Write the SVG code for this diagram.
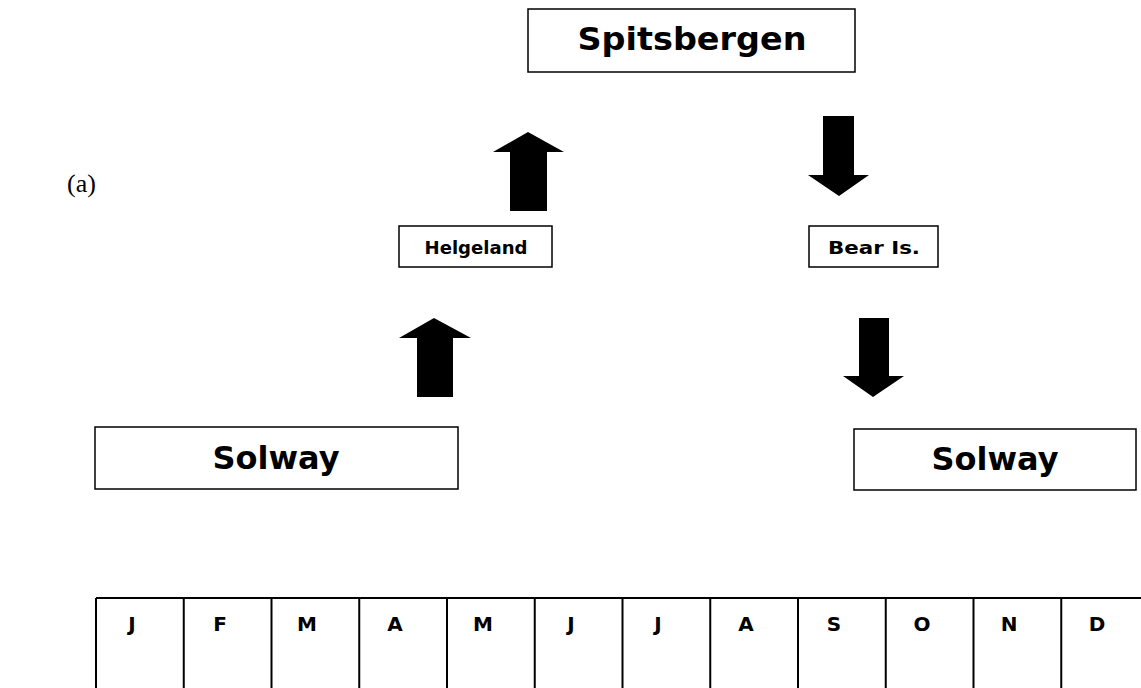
<svg xmlns="http://www.w3.org/2000/svg" width="1141" height="688" viewBox="0 0 1141 688">
<style>
.box{fill:#fff;stroke:#000;stroke-width:1.5}
.lbl{font-family:"Comic Sans MS","DejaVu Sans",sans-serif;font-weight:bold;fill:#000;text-anchor:middle}
.arr{fill:#000;stroke:none}
.grid{stroke:#000;stroke-width:2;fill:none}
.mon{font-family:"Comic Sans MS","DejaVu Sans",sans-serif;font-weight:bold;font-size:20px;fill:#000;text-anchor:middle}
</style>
<rect width="1141" height="688" fill="#fff"/>
<text x="67" y="192" font-family="Liberation Serif, serif" font-size="26">(a)</text>
<g id="spitsbergen">
<rect class="box" x="528" y="9" width="327" height="63"/>
<text class="lbl" x="692" y="50" font-size="32" textLength="229" lengthAdjust="spacingAndGlyphs">Spitsbergen</text>
</g>
<g id="helgeland">
<rect class="box" x="399" y="226" width="153" height="41"/>
<text class="lbl" x="476" y="254" font-size="17" textLength="103" lengthAdjust="spacingAndGlyphs">Helgeland</text>
</g>
<g id="bear">
<rect class="box" x="809" y="226" width="129" height="41"/>
<text class="lbl" x="874" y="254" font-size="17" textLength="92" lengthAdjust="spacingAndGlyphs">Bear Is.</text>
</g>
<g id="solway-left">
<rect class="box" x="95" y="427" width="363" height="62"/>
<text class="lbl" x="276" y="469" font-size="32">Solway</text>
</g>
<g id="solway-right">
<rect class="box" x="854" y="429" width="282" height="61"/>
<text class="lbl" x="995" y="470" font-size="32">Solway</text>
</g>
<g id="connectors">
<polygon class="arr" points="417,397 453,397 453,338 471,338 434,318 399,338 417,338"/>
<polygon class="arr" points="510,211 547,211 547,152 564,152 528,132 493,152 510,152"/>
<polygon class="arr" points="823,116 854,116 854,175 869,175 839,196 808,175 823,175"/>
<polygon class="arr" points="859,318 889,318 889,376 904,376 873,397 843,376 859,376"/>
</g>
<g id="months">
<path class="grid" d="M96,598 H1141 M96,598 V688 M183.75,598 V688 M271.5,598 V688 M359.25,598 V688 M447,598 V688 M534.75,598 V688 M622.5,598 V688 M710.25,598 V688 M798,598 V688 M885.75,598 V688 M973.5,598 V688 M1061.25,598 V688"/>
<text class="mon" x="132" y="631">J</text>
<text class="mon" x="220" y="631">F</text>
<text class="mon" x="307" y="631">M</text>
<text class="mon" x="395" y="631">A</text>
<text class="mon" x="483" y="631">M</text>
<text class="mon" x="571" y="631">J</text>
<text class="mon" x="658" y="631">J</text>
<text class="mon" x="746" y="631">A</text>
<text class="mon" x="834" y="631">S</text>
<text class="mon" x="922" y="631">O</text>
<text class="mon" x="1009" y="631">N</text>
<text class="mon" x="1097" y="631">D</text>
</g>
</svg>
